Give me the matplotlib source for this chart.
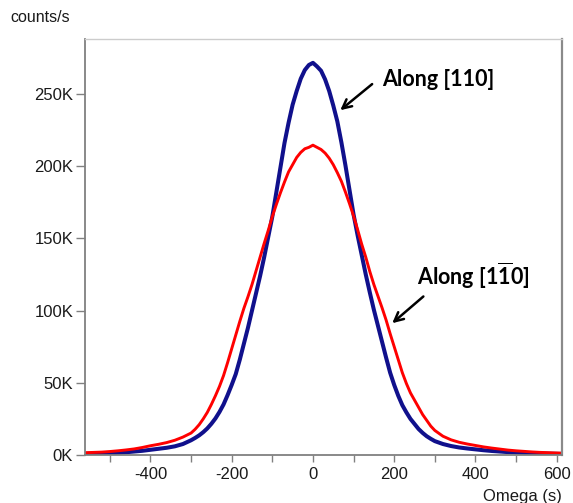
import matplotlib
matplotlib.use("Agg")
import matplotlib.pyplot as plt
from matplotlib.ticker import MultipleLocator, FuncFormatter

plt.rcParams['font.family'] = ['Liberation Sans', 'DejaVu Sans']
plt.rcParams['axes.unicode_minus'] = False
plt.rcParams['mathtext.fontset'] = 'custom'
plt.rcParams['mathtext.rm'] = 'Lato'
plt.rcParams['mathtext.bf'] = 'Lato:bold'

# omega positions (s)
omega = [-560, -540, -520, -500, -480, -460, -440, -420, -400, -380, -360, -340, -320,
         -300, -290, -280, -270, -260, -250, -240, -230, -220, -210, -200, -190, -180,
         -170, -160, -150, -140, -130, -120, -110, -100, -90, -80, -70, -60, -50, -40,
         -30, -20, -10, 0, 10, 20, 30, 40, 50, 60, 70, 80, 90, 100, 110, 120, 130, 140,
         150, 160, 170, 180, 190, 200, 210, 220, 230, 240, 250, 260, 270, 280, 290, 300,
         320, 340, 360, 380, 400, 420, 440, 460, 480, 500, 520, 540, 560, 580, 600, 612]

# counts/s in thousands, along [110]
along_110 = [0.8, 0.9, 1.0, 1.2, 1.5, 1.9, 2.4, 2.9, 3.6, 4.3, 5.0, 6.0, 7.6,
             10.2, 11.8, 13.6, 15.8, 18.4, 21.6, 25.3, 29.8, 35.0, 41.5, 48.5, 56.0, 66.0,
             77.0, 88.0, 100.0, 112.0, 124.0, 137.0, 151.0, 165.0, 182.0, 199.0, 216.0,
             230.0, 242.5, 252.0, 260.5, 266.5, 270.0, 271.5, 269.0, 266.0, 260.0, 252.0,
             242.0, 231.0, 216.5, 200.5, 183.5, 166.5, 152.0, 138.5, 125.0, 112.5, 100.5,
             89.5, 78.5, 67.5, 57.0, 48.5, 41.0, 34.5, 29.5, 25.0, 21.5, 18.0, 15.3, 13.0,
             11.2, 9.6, 7.6, 6.2, 5.2, 4.5, 3.9, 3.3, 2.8, 2.4, 2.0, 1.7, 1.4, 1.2, 1.0,
             0.9, 0.8, 0.7]

# counts/s in thousands, along [1-10]
along_1m10 = [1.6, 1.8, 2.0, 2.4, 2.9, 3.5, 4.2, 5.2, 6.4, 7.4, 8.6, 10.2, 12.4,
              15.2, 17.8, 21.0, 25.0, 29.5, 35.0, 41.0, 47.5, 55.0, 64.0, 73.5, 83.0, 92.5,
              101.5, 109.5, 118.0, 127.5, 137.0, 146.5, 155.5, 165.0, 173.5, 181.5, 189.0,
              196.0, 201.0, 206.0, 209.5, 212.0, 213.0, 214.5, 213.0, 211.5, 209.0, 205.5,
              201.0, 195.5, 189.5, 182.0, 174.0, 165.5, 156.0, 146.0, 137.0, 127.0, 118.0,
              110.0, 102.0, 93.5, 84.0, 75.0, 66.0, 57.0, 49.5, 43.0, 38.0, 33.0, 28.0,
              24.0, 20.0, 17.0, 13.0, 10.5, 8.8, 7.6, 6.6, 5.6, 4.8, 4.1, 3.4, 2.9, 2.5,
              2.1, 1.8, 1.6, 1.4, 1.3]

y_ticks = [0, 50, 100, 150, 200, 250]
x_ticks = [-400, -200, 0, 200, 400, 600]

fig = plt.figure(figsize=(5.73, 5.03), dpi=100)
ax = fig.add_axes([85 / 573, 1 - 455 / 503, 477 / 573, 416 / 503])

ax.plot(omega, along_110, color='#10108c', lw=2.9, solid_capstyle='butt')
ax.plot(omega, along_1m10, color='#ff0000', lw=2.1, solid_capstyle='butt')

ax.set_xlim(-561, 613)
ax.set_ylim(0, 288)
ax.set_xticks(x_ticks)
ax.xaxis.set_minor_locator(MultipleLocator(100))
ax.set_yticks(y_ticks)
ax.yaxis.set_major_formatter(FuncFormatter(lambda v, p: '%dK' % v))

for side in ['left', 'bottom']:
    ax.spines[side].set_color('#808080')
    ax.spines[side].set_linewidth(1.3)
ax.spines['right'].set_color('#8a8a8a')
ax.spines['right'].set_linewidth(1.6)
ax.spines['top'].set_color('#cccccc')
ax.spines['top'].set_linewidth(1.0)

ax.tick_params(axis='x', which='both', direction='out', length=5.3, width=1.0,
               color='#808080', labelsize=12, labelcolor='#1a1a1a', pad=3)
ax.tick_params(axis='y', direction='out', length=6.5, width=1.0,
               color='#808080', labelsize=12, labelcolor='#1a1a1a', pad=2)

fig.text(10 / 573, 1 - 18 / 503, 'counts/s', fontsize=11.5, color='#1a1a1a',
         ha='left', va='center')
fig.text(562 / 573, 1 - 496 / 503, 'Omega (s)', fontsize=12, color='#1a1a1a',
         ha='right', va='center')

arrow = dict(arrowstyle='->', lw=1.8, color='black', mutation_scale=16)
ax.annotate('', xy=(62, 237.5), xytext=(151, 258), arrowprops=arrow)
ax.text(170, 260, 'Along [110]', fontsize=15.5, fontweight='bold', family='Lato',
        ha='left', va='center')
ax.annotate('', xy=(190, 90), xytext=(277, 111), arrowprops=arrow)
ax.text(257, 124, r'Along [1$\mathbf{\overline{1}}$0]', fontsize=15.5, fontweight='bold',
        family='Lato', ha='left', va='center')

fig.savefig('out.png', dpi=100)
